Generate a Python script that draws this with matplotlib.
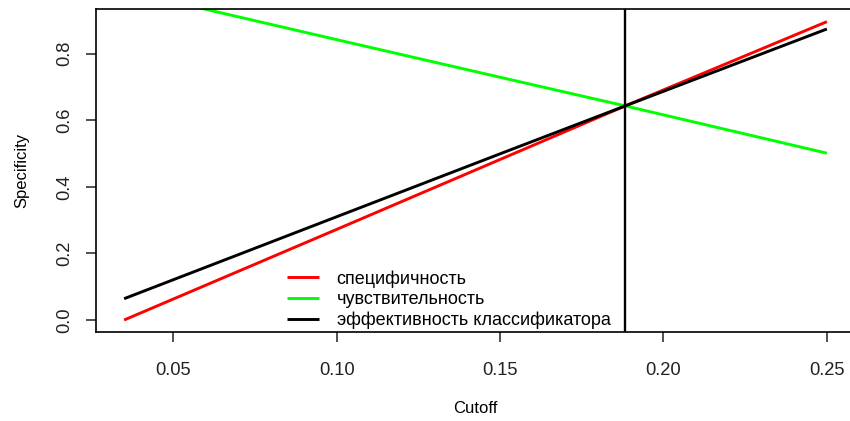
import numpy as np
import matplotlib
matplotlib.use("Agg")
import matplotlib.pyplot as plt

plt.rcParams['font.family'] = ['Liberation Sans', 'DejaVu Sans']

# cutoff points and the three curves
cutoff = [0.035, 0.100, 0.150, 0.1883, 0.250]
specificity = [0.000, 0.272, 0.482, 0.643, 0.896]
sensitivity = [0.990, 0.842, 0.729, 0.643, 0.501]
efficiency = [0.064, 0.310, 0.499, 0.643, 0.874]
best_cutoff = 0.1883

labels = [u'специфичность', u'чувствительность', u'эффективность классификатора']
colors = ['#ff0000', '#00ff00', '#000000']

fig = plt.figure(figsize=(8.5, 4.21), dpi=100)
ax = fig.add_axes([96 / 850, 1 - 332 / 421, 759 / 850, 323 / 421])

for ys, c, lab in zip([specificity, sensitivity, efficiency], colors, labels):
    ax.plot(cutoff, ys, color=c, lw=2.1, label=lab, solid_capstyle='butt')
ax.axvline(best_cutoff, color='black', lw=1.7)

ax.set_xlim(0.0264, 0.2586)
ax.set_ylim(-0.036, 0.934)
ax.set_xticks([0.05, 0.10, 0.15, 0.20, 0.25])
ax.set_xticklabels(['0.05', '0.10', '0.15', '0.20', '0.25'])
ax.set_yticks([0.0, 0.2, 0.4, 0.6, 0.8])
ax.set_yticklabels(['0.0', '0.2', '0.4', '0.6', '0.8'], rotation=90, va='center')
ax.tick_params(labelsize=13.2, length=7.5, width=1.1, pad=14, colors='#222222')
ax.tick_params(axis='y', pad=9)
for s in ax.spines.values():
    s.set_linewidth(1.2)

ax.set_xlabel('Cutoff', fontsize=12, labelpad=16)
ax.set_ylabel('Specificity', fontsize=12, labelpad=19)

ax.legend(loc='center left', bbox_to_anchor=(0.2516, 0.10), frameon=False,
          fontsize=13, handlelength=1.8, handletextpad=0.95, labelspacing=0.2,
          borderpad=0, borderaxespad=0)

fig.savefig('out.png', dpi=100)
